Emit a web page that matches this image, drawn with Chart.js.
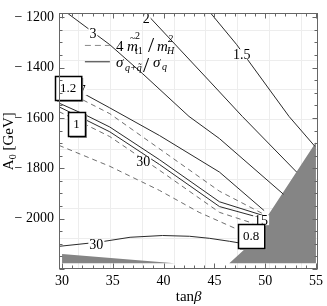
<!DOCTYPE html>
<html><head><meta charset="utf-8">
<script src="https://cdn.jsdelivr.net/npm/chart.js@4.4.1/dist/chart.umd.min.js"></script>
<style>html,body{margin:0;padding:0;background:#fff}canvas{display:block}</style>
</head><body>
<canvas id="c" width="327" height="306" style="width:327px;height:306px"></canvas>
<script>
// ---- axes ----
const tanBetaTicks = [30, 35, 40, 45, 50, 55];
const a0Ticks = [-2000, -1800, -1600, -1400, -1200];
const tanBetaRange = [29.7, 55.23];
const a0Range = [-2200, -1184.8];
const meshTanBeta = [31.6, 34.7, 37.85, 41, 44.1, 47.2, 50.35, 53.5];
const meshA0 = [-1251, -1369, -1487, -1605, -1723, -1841, -1959, -2077];

// ---- solid contours (sigma ratio) ----
const c3_tb = [30.6, 34.7, 37.9, 42.5, 45.5, 51.8];
const c3_a0 = [-1186, -1309, -1423, -1594, -1682, -1903];
const c2_tb = [38.4, 44.5, 47.75, 53.1];
const c2_a0 = [-1190, -1453, -1594, -1815];
const c15_tb = [44.7, 47.2, 52.35, 54.9];
const c15_a0 = [-1187, -1309, -1594, -1713];
const band1_tb = [29.7, 34.7, 39.6, 45.5, 49.9];
const band1_a0 = [-1450, -1560, -1670, -1815, -1968];
const band3_tb = [29.7, 32.25, 34.7, 39.6, 45.5, 50.0];
const band3_a0 = [-1541, -1587, -1636, -1766, -1933, -1990];
const band4_tb = [29.7, 32.25, 34.7, 39.6, 45.5, 50.0];
const band4_a0 = [-1556, -1606, -1655, -1785, -1952, -2002];
const low30_tb = [29.7, 33.7, 36.7, 39.9, 42.55, 44.5, 46.5, 48.4];
const low30_a0 = [-2110, -2093, -2074, -2067, -2070, -2078, -2090, -2103];

// ---- dashed contours (4 m_t1^2 / m_H^2) ----
const d2_tb = [29.7, 34.7, 45.5, 49.9];
const d2_a0 = [-1480, -1583, -1891, -1983];
const d5_tb = [29.7, 32.25, 34.7, 39.6, 45.5, 49.6];
const d5_a0 = [-1575, -1625, -1674, -1808, -1975, -2029];
const d6_tb = [29.7, 34.7, 39.6, 43.5, 47.35];
const d6_a0 = [-1709, -1792, -1888, -1975, -2044];

// ---- excluded (grey) regions ----
const greyR_tb = [46.47, 48.14, 50.2, 50.29, 55.0, 55.0];
const greyR_a0 = [-2177, -2116, -2021, -1987, -1697, -2177];
const greyL_tb = [30.0, 41.1, 30.0];
const greyL_a0 = [-2140, -2177, -2177];

// ---- labels ----
const lineLabels = ['3', '2', '1.5', '30', '30', '15', '7'];
const lineLabel_tb = [33.04, 38.28, 47.7, 37.99, 33.38, 49.6, 32.0];
const lineLabel_a0 = [-1263, -1204, -1347, -1773, -2101, -2006, -1490];
const boxLabels = ['1.2', '1', '0.8'];
const box_tb = [30.59, 31.42, 48.63];
const box_a0 = [-1480, -1623, -2069];

const pts = (xs, ys) => xs.map((v, i) => ({x: v, y: ys[i]}));
const solid = (xs, ys) => ({data: pts(xs, ys), showLine: true, pointRadius: 0, borderColor: '#2a2a2a', borderWidth: 1, fill: false});
const dashed = (xs, ys) => ({data: pts(xs, ys), showLine: true, pointRadius: 0, borderColor: '#6e6e6e', borderWidth: 1, borderDash: [5, 4], fill: false});
const grey = (xs, ys) => ({data: pts(xs, ys), showLine: true, pointRadius: 0, borderWidth: 0, borderColor: 'rgba(0,0,0,0)', backgroundColor: '#858585', fill: 'shape'});

const datasets = [
  solid(c3_tb, c3_a0), solid(c2_tb, c2_a0), solid(c15_tb, c15_a0),
  solid(band1_tb, band1_a0), solid(band3_tb, band3_a0), solid(band4_tb, band4_a0),
  solid(low30_tb, low30_a0),
  dashed(d2_tb, d2_a0), dashed(d5_tb, d5_a0), dashed(d6_tb, d6_a0),
  grey(greyR_tb, greyR_a0), grey(greyL_tb, greyL_a0)
];

const SERIF = '"Liberation Serif", "DejaVu Serif", serif';

const overlay = {
  id: 'overlay',
  beforeDatasetsDraw(chart) {
    const {ctx, chartArea: a, scales: {x, y}} = chart;
    ctx.save();
    ctx.strokeStyle = '#ededed'; ctx.lineWidth = 1;
    meshTanBeta.forEach(v => { const p = Math.round(x.getPixelForValue(v)) + 0.5; ctx.beginPath(); ctx.moveTo(p, a.top); ctx.lineTo(p, a.bottom); ctx.stroke(); });
    meshA0.forEach(v => { const p = Math.round(y.getPixelForValue(v)) + 0.5; ctx.beginPath(); ctx.moveTo(a.left, p); ctx.lineTo(a.right, p); ctx.stroke(); });
    ctx.restore();
  },
  afterDatasetsDraw(chart) {
    const {ctx, chartArea: a, scales: {x, y}} = chart;
    ctx.save();
    // contour labels
    ctx.font = '14px ' + SERIF; ctx.textAlign = 'center'; ctx.textBaseline = 'middle';
    lineLabels.forEach((t, i) => {
      const px = x.getPixelForValue(lineLabel_tb[i]), py = y.getPixelForValue(lineLabel_a0[i]);
      const w = ctx.measureText(t).width;
      ctx.fillStyle = '#fff'; ctx.fillRect(px - w / 2 - 1, py - 5, w + 2, 10);
      ctx.fillStyle = '#000'; ctx.fillText(t, px, py + 1);
    });
    // boxed labels
    ctx.font = '13px ' + SERIF;
    boxLabels.forEach((t, i) => {
      const px = x.getPixelForValue(box_tb[i]), py = y.getPixelForValue(box_a0[i]);
      const w = Math.max(ctx.measureText(t).width + 10, 17), h = 24;
      const l = Math.round(px - w / 2) + 0.5, tp = Math.round(py - h / 2) + 0.5;
      ctx.fillStyle = '#9a9a9a'; ctx.fillRect(l + 1.5, tp + 1.5, w, h);
      ctx.fillStyle = '#fff'; ctx.fillRect(l, tp, w, h);
      ctx.strokeStyle = '#000'; ctx.lineWidth = 1.5; ctx.strokeRect(l, tp, w, h);
      ctx.fillStyle = '#000'; ctx.fillText(t, px, py + 1);
    });
    // legend
    const lx = x.getPixelForValue(32.25), lx2 = x.getPixelForValue(34.71);
    const r1 = y.getPixelForValue(-1312), r2 = y.getPixelForValue(-1377);
    ctx.lineWidth = 1;
    ctx.strokeStyle = '#8a8a8a'; ctx.setLineDash([6, 4]);
    ctx.beginPath(); ctx.moveTo(lx, r1); ctx.lineTo(lx2, r1); ctx.stroke();
    ctx.setLineDash([]); ctx.strokeStyle = '#2a2a2a';
    ctx.beginPath(); ctx.moveTo(lx, r2); ctx.lineTo(lx2, r2); ctx.stroke();
    ctx.fillStyle = '#000'; ctx.textAlign = 'left'; ctx.textBaseline = 'alphabetic';
    const bx = lx2 + 6, b1 = r1 + 6, b2 = r2 + 5;
    ctx.font = '15px ' + SERIF; ctx.fillText('4', bx, b1);
    ctx.font = 'italic 15px ' + SERIF; ctx.fillText('m', bx + 11, b1);
    ctx.font = '10px ' + SERIF; ctx.fillText('~', bx + 14, b1 - 10); ctx.fillText('2', bx + 19, b1 - 12);
    ctx.fillText('t1', bx + 19, b1 + 3);
    ctx.font = '22px ' + SERIF; ctx.fillText('/', bx + 32, b1 + 1); ctx.fillText('/', bx + 27, b2 + 5);
    ctx.font = 'italic 15px ' + SERIF; ctx.fillText('m', bx + 41, b1);
    ctx.font = 'italic 10px ' + SERIF; ctx.fillText('2', bx + 52, b1 - 9); ctx.fillText('H', bx + 51, b1 + 3);
    ctx.font = 'italic 15px ' + SERIF; ctx.fillText('σ', bx, b2);
    ctx.font = 'italic 10px ' + SERIF; ctx.fillText('q+q̃', bx + 9, b2 + 4);
    ctx.font = 'italic 15px ' + SERIF; ctx.fillText('σ', bx + 37, b2);
    ctx.font = 'italic 10px ' + SERIF; ctx.fillText('q', bx + 46, b2 + 3);
    // frame
    ctx.strokeStyle = '#666'; ctx.lineWidth = 1;
    const L = Math.round(a.left) + 0.5, R = Math.round(a.right) - 0.5, T = Math.round(a.top) + 0.5, B = Math.round(a.bottom) - 0.5;
    ctx.strokeRect(L, T, R - L, B - T);
    // inward ticks
    ctx.beginPath();
    for (let v = 30; v <= 55; v++) {
      const p = Math.round(x.getPixelForValue(v)) + 0.5, len = v % 5 === 0 ? 5 : 3;
      ctx.moveTo(p, B); ctx.lineTo(p, B - len); ctx.moveTo(p, T); ctx.lineTo(p, T + len);
    }
    for (let v = -2200; v <= -1200; v += 50) {
      const p = Math.round(y.getPixelForValue(v)) + 0.5, len = v % 200 === 0 ? 5 : 3;
      ctx.moveTo(L, p); ctx.lineTo(L + len, p); ctx.moveTo(R, p); ctx.lineTo(R - len, p);
    }
    ctx.stroke();
    // axis titles
    ctx.fillStyle = '#000'; ctx.textBaseline = 'alphabetic'; ctx.textAlign = 'left';
    ctx.font = '15px ' + SERIF;
    const xt = 'tan', wt = ctx.measureText(xt).width;
    ctx.font = 'italic 15px ' + SERIF; const wb = ctx.measureText('β').width;
    const cx = (a.left + a.right) / 2, sx = cx - (wt + wb) / 2;
    ctx.font = '15px ' + SERIF; ctx.fillText(xt, sx, 301);
    ctx.font = 'italic 15px ' + SERIF; ctx.fillText('β', sx + wt, 301);
    ctx.save();
    ctx.translate(13, (a.top + a.bottom) / 2); ctx.rotate(-Math.PI / 2);
    ctx.font = '15px ' + SERIF;
    const wA = ctx.measureText('A').width; ctx.font = '10px ' + SERIF; const w0 = ctx.measureText('0').width;
    ctx.font = '15px ' + SERIF; const wG = ctx.measureText(' [GeV]').width;
    const s0 = -(wA + w0 + wG) / 2;
    ctx.fillText('A', s0, 0);
    ctx.font = '10px ' + SERIF; ctx.fillText('0', s0 + wA, 3);
    ctx.font = '15px ' + SERIF; ctx.fillText(' [GeV]', s0 + wA + w0, 0);
    ctx.restore();
    ctx.restore();
  }
};

new Chart(document.getElementById('c'), {
  type: 'scatter',
  data: {datasets},
  options: {
    responsive: false, animation: false, devicePixelRatio: 1,
    layout: {padding: {top: 2.5, right: 8, left: 0, bottom: 0}},
    plugins: {legend: {display: false}, tooltip: {enabled: false}},
    scales: {
      x: {
        type: 'linear', min: tanBetaRange[0], max: tanBetaRange[1],
        afterBuildTicks: s => { s.ticks = tanBetaTicks.map(v => ({value: v})); },
        afterFit: s => { s.height = 37; },
        grid: {display: false, drawTicks: false}, border: {display: false},
        ticks: {padding: 4, color: '#000', font: {family: SERIF, size: 14}, maxRotation: 0, autoSkip: false, callback: v => String(v)}
      },
      y: {
        type: 'linear', min: a0Range[0], max: a0Range[1],
        afterBuildTicks: s => { s.ticks = a0Ticks.map(v => ({value: v})); },
        afterFit: s => { s.width = 59; },
        grid: {display: false, drawTicks: false}, border: {display: false},
        ticks: {padding: 5, color: '#000', font: {family: SERIF, size: 14}, autoSkip: false, callback: v => '\u2212 ' + Math.abs(v)}
      }
    }
  },
  plugins: [overlay]
});
</script>
</body></html>
